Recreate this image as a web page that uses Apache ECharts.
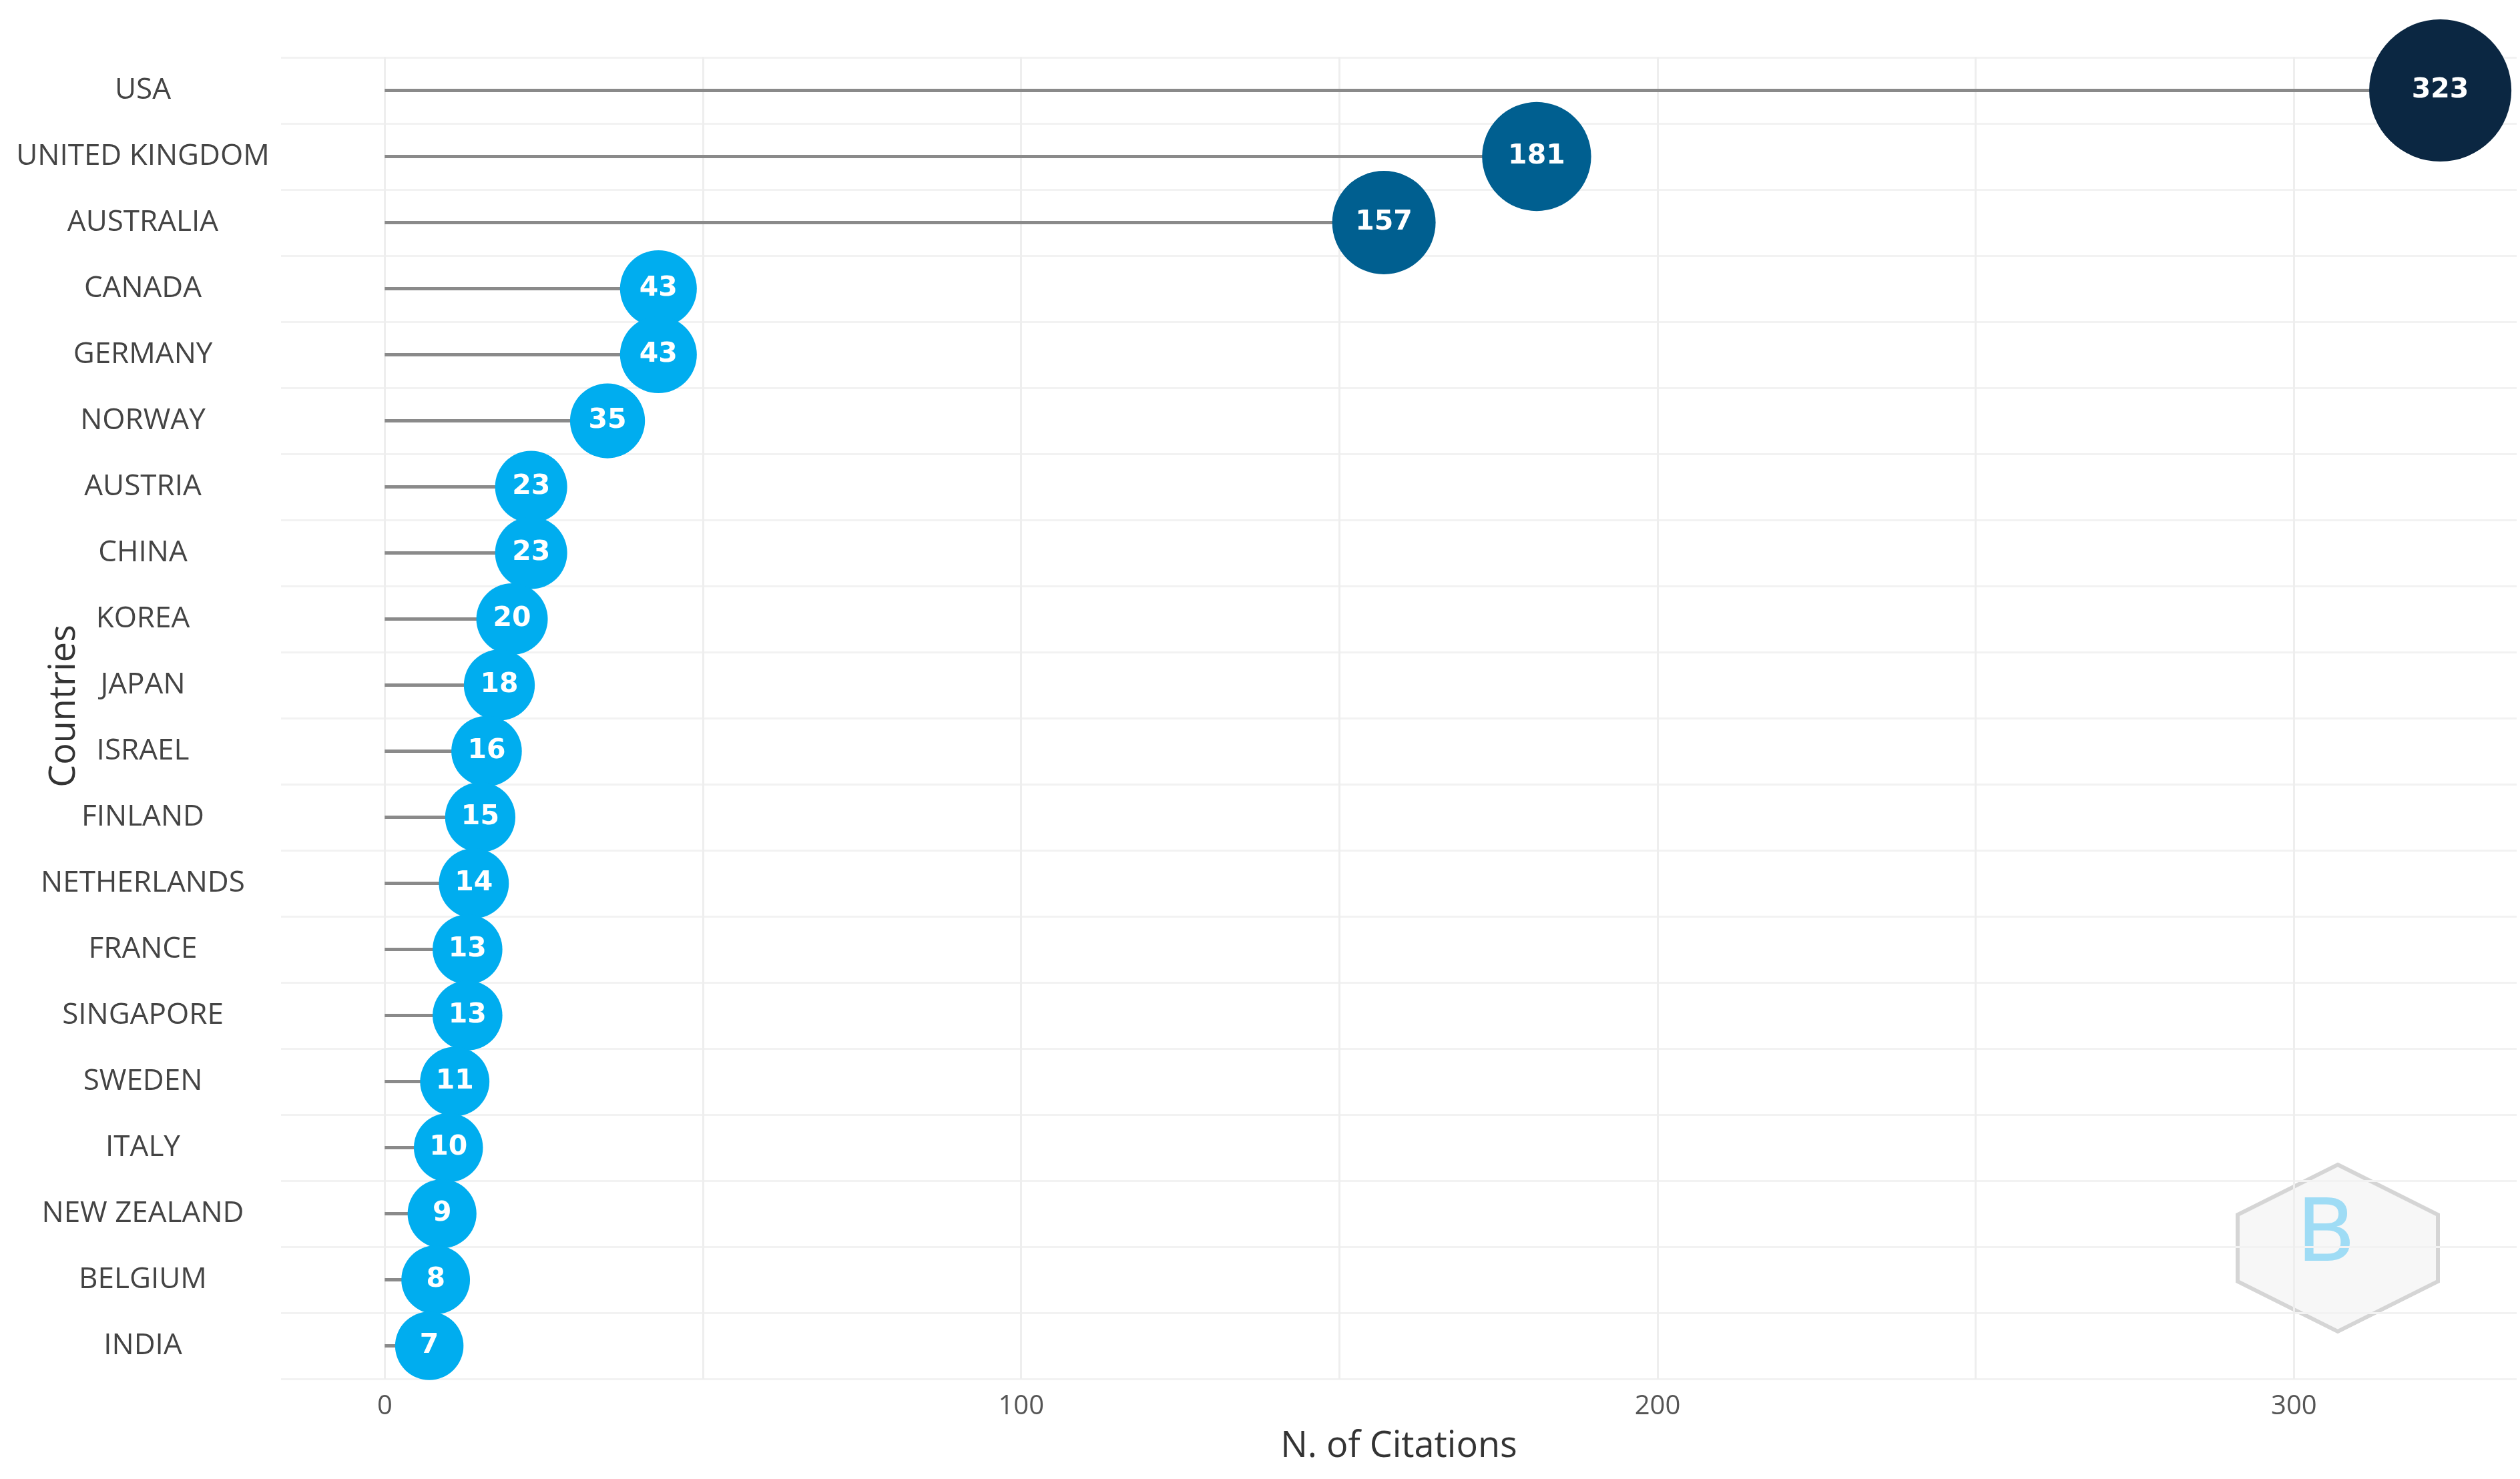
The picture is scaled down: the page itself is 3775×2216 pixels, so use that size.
<!DOCTYPE html>
<html><head><meta charset="utf-8">
<script src="https://cdn.jsdelivr.net/npm/echarts@6/dist/echarts.min.js"></script>
<style>html,body{margin:0;background:#fff}#c{width:3775px;height:2216px}</style>
</head><body><div id="c"></div>
<script>
const countries=["USA","UNITED KINGDOM","AUSTRALIA","CANADA","GERMANY","NORWAY","AUSTRIA","CHINA","KOREA","JAPAN","ISRAEL","FINLAND","NETHERLANDS","FRANCE","SINGAPORE","SWEDEN","ITALY","NEW ZEALAND","BELGIUM","INDIA"];
const citations=[323,181,157,43,43,35,23,23,20,18,16,15,14,13,13,11,10,9,8,7];
const xTicks=[0,100,200,300];
const chart=echarts.init(document.getElementById('c'));
function col(v){return v>300?'#0b2742':(v>100?'#005f90':'#00adef');}
chart.setOption({
  animation:false,
  grid:{left:421,right:5,top:86,bottom:150,outerBoundsMode:'none',containLabel:false},
  xAxis:{type:'value',min:-16.3,max:335,
    name:'N. of Citations',nameLocation:'middle',nameGap:75,
    nameTextStyle:{fontSize:54,color:'#333',fontFamily:'Open Sans'},
    axisLine:{show:false},
    axisTick:{show:false,customValues:[0,50,100,150,200,250,300]},
    axisLabel:{customValues:xTicks,fontSize:40,color:'#555',margin:22,fontFamily:'Open Sans'},
    splitLine:{show:true,lineStyle:{color:'#eeeeee',width:3}}},
  yAxis:{type:'category',data:countries,inverse:true,
    axisLine:{show:false},axisTick:{show:false},
    axisLabel:{align:'center',margin:207,fontSize:44,color:'#444',fontFamily:'Open Sans'},
    splitLine:{show:true,interval:0,lineStyle:{color:'#f2f2f2',width:3}}},
  series:[
    {type:'bar',data:citations,barWidth:5,itemStyle:{color:'#8a8a8a'},z:1},
    {type:'scatter',data:citations,z:3,
      symbolSize:v=>100+0.35*v,
      itemStyle:{color:p=>col(p.value),opacity:1},
      label:{show:true,position:'inside',formatter:p=>p.value,color:'#fff',fontWeight:'bold',fontSize:41,fontFamily:'DejaVu Sans'}}
  ],
  graphic:[
    {type:'text',x:97,y:1058,rotation:Math.PI/2,style:{text:'Countries',fontSize:54,fill:'#333',fontFamily:'Open Sans',align:'center',verticalAlign:'middle'}},
    {type:'polygon',shape:{points:[[3502,1745],[3652,1820],[3652,1920],[3502,1995],[3352,1920],[3352,1820]]},
    style:{fill:'#f7f7f7',stroke:'#d5d5d5',lineWidth:6}},
    {type:'text',left:3440,top:1790,style:{text:'B',fontSize:130,fill:'#9fdcf5',fontFamily:'DejaVu Sans'}}]
});
</script></body></html>
